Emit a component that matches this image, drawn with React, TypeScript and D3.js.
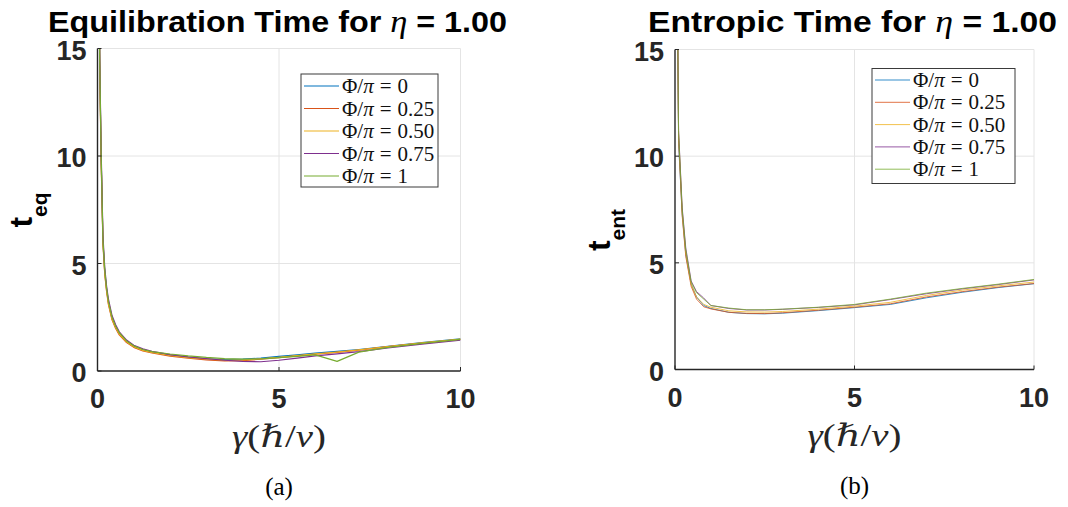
import React from "react";
import * as d3 from "d3";

// Damping rate grid for each panel
const gammaEq = [0.03, 0.06, 0.1, 0.15, 0.2, 0.25, 0.3, 0.4, 0.5, 0.6, 0.8, 1, 1.25, 1.5, 2, 2.5, 3, 3.5, 4, 4.5, 5, 5.5, 6, 6.6, 7.2, 8, 9, 10];
const gammaEnt = [0.05, 0.1, 0.2, 0.3, 0.45, 0.6, 0.8, 1, 1.5, 2, 2.5, 3, 4, 5, 6, 7, 8, 9, 10];

// Flux labels (Φ/π) and series colours
const fluxLabels = ["0", "0.25", "0.50", "0.75", "1"];
const seriesColors = ["#0072BD", "#D95319", "#EDB120", "#7E2F8E", "#77AC30"];

// Equilibration time t_eq for each flux value
const teqFlux0 = [22, 14.5, 10, 6.0, 4.6, 3.8, 3.2, 2.45, 2.05, 1.75, 1.38, 1.15, 0.98, 0.88, 0.74, 0.64, 0.57, 0.53, 0.55, 0.6, 0.68, 0.75, 0.83, 0.91, 1.0, 1.15, 1.33, 1.49];
const teqFlux025 = [22, 14.3, 9.8, 5.9, 4.5, 3.7, 3.1, 2.38, 1.98, 1.68, 1.32, 1.1, 0.93, 0.84, 0.69, 0.6, 0.52, 0.47, 0.48, 0.55, 0.62, 0.7, 0.78, 0.87, 0.97, 1.13, 1.31, 1.47];
const teqFlux050 = [22, 14.4, 9.9, 6.0, 4.55, 3.75, 3.15, 2.42, 2.02, 1.72, 1.36, 1.13, 0.96, 0.86, 0.72, 0.62, 0.56, 0.5, 0.52, 0.57, 0.64, 0.72, 0.8, 0.88, 0.98, 1.14, 1.32, 1.48];
const teqFlux075 = [22, 14.8, 10.3, 6.3, 4.8, 3.95, 3.35, 2.58, 2.15, 1.82, 1.44, 1.2, 1.03, 0.92, 0.76, 0.66, 0.58, 0.5, 0.45, 0.43, 0.5, 0.6, 0.7, 0.8, 0.9, 1.07, 1.26, 1.43];
const teqFlux1 = [22, 14.6, 10.1, 6.1, 4.7, 3.85, 3.25, 2.5, 2.08, 1.78, 1.4, 1.17, 1.0, 0.9, 0.79, 0.7, 0.63, 0.58, 0.55, 0.56, 0.62, 0.68, 0.75, 0.45, 0.88, 1.1, 1.3, 1.47];

// Entropic time t_ent for each flux value
const tentFlux0 = [21, 10.6, 7.3, 5.4, 4.0, 3.4, 3.0, 2.86, 2.68, 2.62, 2.61, 2.64, 2.76, 2.9, 3.05, 3.36, 3.62, 3.84, 4.02];
const tentFlux025 = [21, 10.8, 7.2, 5.3, 3.9, 3.3, 2.94, 2.84, 2.68, 2.63, 2.62, 2.66, 2.78, 2.92, 3.08, 3.4, 3.65, 3.86, 4.03];
const tentFlux050 = [21, 11.0, 7.4, 5.5, 4.0, 3.4, 3.05, 2.92, 2.75, 2.7, 2.69, 2.72, 2.83, 2.97, 3.15, 3.47, 3.72, 3.92, 4.1];
const tentFlux075 = [21, 11.2, 7.6, 5.7, 4.15, 3.65, 3.35, 3.0, 2.86, 2.79, 2.79, 2.82, 2.91, 3.03, 3.28, 3.55, 3.78, 3.98, 4.2];
const tentFlux1 = [21, 11.1, 7.5, 5.6, 4.1, 3.6, 3.3, 3.0, 2.88, 2.8, 2.8, 2.83, 2.92, 3.05, 3.3, 3.58, 3.8, 4.0, 4.22];

const xTicks = [0, 5, 10];
const yTicks = [0, 5, 10, 15];

const AXIS = "#262626";
const GRID = "#e4e4e4";
const SANS = "'Liberation Sans', Arial, Helvetica, sans-serif";
const SERIF = "'Liberation Serif', 'DejaVu Serif', 'Times New Roman', serif";

type PanelProps = {
  id: string;
  left: number;
  right: number;
  top: number;
  bottom: number;
  title: string;
  titleX: number;
  titleWidth: number;
  ySub: string;
  yLabelCenter: number;
  gamma: number[];
  series: number[][];
  legend: { x: number; y: number; w: number; h: number; row0: number; step: number };
  lineWidth: number;
  lineOpacity: number;
  caption: string;
};

function Panel(p: PanelProps) {
  const x = d3.scaleLinear().domain([0, 10]).range([p.left, p.right]);
  const y = d3.scaleLinear().domain([0, 15]).range([p.bottom, p.top]);
  const line = d3
    .line<number>()
    .x((_, i) => x(p.gamma[i]))
    .y((v) => y(v));
  const cx = (p.left + p.right) / 2;
  const clipId = `clip-${p.id}`;

  return (
    <g>
      <defs>
        <clipPath id={clipId}>
          <rect x={p.left} y={p.top} width={p.right - p.left} height={p.bottom - p.top} />
        </clipPath>
      </defs>

      {/* grid */}
      {xTicks.filter((t) => t > 0).map((t) => (
        <line key={`gx${t}`} x1={x(t)} x2={x(t)} y1={p.top} y2={p.bottom} stroke={GRID} strokeWidth={1} />
      ))}
      {yTicks.filter((t) => t > 0).map((t) => (
        <line key={`gy${t}`} x1={p.left} x2={p.right} y1={y(t)} y2={y(t)} stroke={GRID} strokeWidth={1} />
      ))}

      {/* curves */}
      <g clipPath={`url(#${clipId})`}>
        {p.series.map((s, i) => (
          <path
            key={i}
            d={line(s) || ""}
            fill="none"
            stroke={seriesColors[i]}
            strokeWidth={p.lineWidth}
            strokeOpacity={p.lineOpacity}
            strokeLinejoin="round"
          />
        ))}
      </g>

      {/* axes */}
      <line x1={p.left} x2={p.left} y1={p.top} y2={p.bottom} stroke={AXIS} strokeWidth={1.4} />
      <line x1={p.left} x2={p.right} y1={p.bottom} y2={p.bottom} stroke={AXIS} strokeWidth={1.4} />
      {xTicks.map((t) => (
        <line key={`tx${t}`} x1={x(t)} x2={x(t)} y1={p.bottom} y2={p.bottom - 4} stroke={AXIS} strokeWidth={1} />
      ))}
      {yTicks.map((t) => (
        <line key={`ty${t}`} x1={p.left} x2={p.left + 4} y1={y(t)} y2={y(t)} stroke={AXIS} strokeWidth={1} />
      ))}

      {/* tick labels */}
      {yTicks.map((t) => (
        <text
          key={`ly${t}`}
          x={p.left - 11}
          y={y(t) + 11}
          textAnchor="end"
          fontFamily={SANS}
          fontWeight="bold"
          fontSize={27}
          fill={AXIS}
        >
          {t}
        </text>
      ))}
      {xTicks.map((t) => (
        <text
          key={`lx${t}`}
          x={x(t)}
          y={p.bottom + 37}
          textAnchor="middle"
          fontFamily={SANS}
          fontWeight="bold"
          fontSize={27}
          fill={AXIS}
        >
          {t}
        </text>
      ))}

      {/* title */}
      <text
        x={p.titleX}
        y={32}
        fontFamily={SANS}
        fontWeight="bold"
        fontSize={30}
        fill="#000"
        textLength={p.titleWidth}
        lengthAdjust="spacingAndGlyphs"
      >
        {p.title}{" "}
        <tspan fontFamily={SERIF} fontStyle="italic" fontWeight="normal" fontSize={32}>
          η
        </tspan>{" "}
        = 1.00
      </text>

      {/* y label */}
      <text
        transform={`translate(${p.left - 65.5},${p.yLabelCenter}) rotate(-90)`}
        textAnchor="middle"
        fontFamily={SANS}
        fontWeight="bold"
        fill="#000"
      >
        <tspan fontSize={32}>t</tspan>
        <tspan fontSize={21} dy={15}>
          {p.ySub}
        </tspan>
      </text>

      {/* x label */}
      <text
        x={cx - 47}
        y={p.bottom + 76}
        fontFamily={SERIF}
        fontSize={31}
        fill="#262626"
        textLength={94}
        lengthAdjust="spacingAndGlyphs"
      >
        <tspan fontStyle="italic">γ</tspan>(ℏ/<tspan fontStyle="italic">v</tspan>)
      </text>

      {/* caption */}
      <text x={cx} y={p.bottom + 124} textAnchor="middle" fontFamily={SERIF} fontSize={25} fill="#000">
        {p.caption}
      </text>

      {/* legend */}
      <rect
        x={p.legend.x}
        y={p.legend.y}
        width={p.legend.w}
        height={p.legend.h}
        fill="#fff"
        stroke="#3a3a3a"
        strokeWidth={1}
      />
      {fluxLabels.map((lab, i) => {
        const ry = p.legend.row0 + i * p.legend.step;
        return (
          <g key={`lg${i}`}>
            <line
              x1={p.legend.x + 3}
              x2={p.legend.x + 38}
              y1={ry}
              y2={ry}
              stroke={seriesColors[i]}
              strokeWidth={p.lineWidth}
              strokeOpacity={p.lineOpacity}
            />
            <text x={p.legend.x + 41} y={ry + 7} fontFamily={SERIF} fontSize={21} fill="#111">
              Φ/<tspan fontStyle="italic">π</tspan>
              <tspan dx={6}>=</tspan>
              <tspan dx={6}>{lab}</tspan>
            </text>
          </g>
        );
      })}
    </g>
  );
}

export default function App() {
  return (
    <svg
      width={1068}
      height={507}
      viewBox="0 0 1068 507"
      style={{ position: "absolute", left: 0, top: 0, background: "#fff" }}
    >
      <rect width={1068} height={507} fill="#fff" />
      <Panel
        id="eq"
        left={97.5}
        right={460.5}
        top={48.5}
        bottom={371}
        title="Equilibration Time for"
        titleX={48}
        titleWidth={459}
        ySub="eq"
        yLabelCenter={210}
        gamma={gammaEq}
        series={[teqFlux0, teqFlux025, teqFlux050, teqFlux075, teqFlux1]}
        legend={{ x: 301, y: 74, w: 137, h: 113, row0: 86, step: 22.5 }}
        lineWidth={1.2}
        lineOpacity={1}
        caption="(a)"
      />
      <Panel
        id="ent"
        left={675}
        right={1034}
        top={49.5}
        bottom={369.5}
        title="Entropic Time for"
        titleX={648}
        titleWidth={409}
        ySub="ent"
        yLabelCenter={230}
        gamma={gammaEnt}
        series={[tentFlux0, tentFlux025, tentFlux050, tentFlux075, tentFlux1]}
        legend={{ x: 872, y: 68.5, w: 143, h: 115, row0: 80, step: 22.3 }}
        lineWidth={1}
        lineOpacity={0.8}
        caption="(b)"
      />
    </svg>
  );
}
